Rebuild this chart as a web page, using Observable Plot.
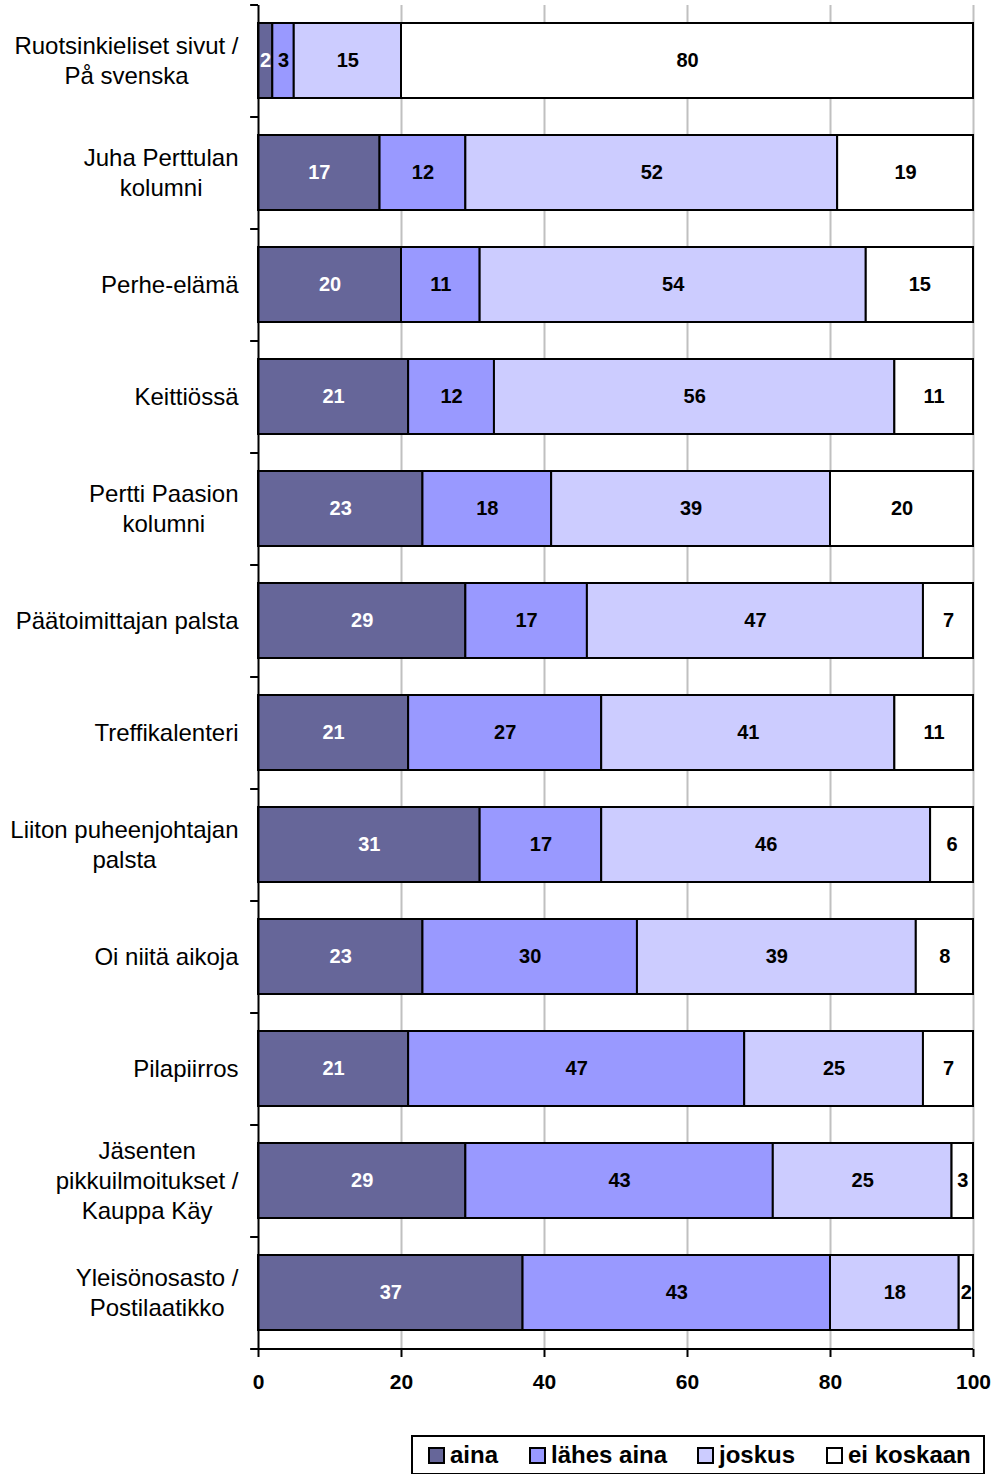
<!DOCTYPE html>
<html>
<head>
<meta charset="utf-8">
<script src="https://cdn.jsdelivr.net/npm/d3@7"></script>
<script src="https://cdn.jsdelivr.net/npm/@observablehq/plot@0.6"></script>
<style>
  html, body { margin: 0; padding: 0; background: #fff; }
  #wrap { position: relative; width: 995px; height: 1474px; font-family: "Liberation Sans", Arial, sans-serif; }
  #legend { position: absolute; left: 411px; top: 1435px; width: 574px; height: 40px; border: 2px solid #000; box-sizing: border-box;
            font-weight: bold; font-size: 24px; background:#fff; }
  .item { display: flex; align-items: center; position: absolute; top: 4px; }
  .sw { width: 13px; height: 13px; border: 2px solid #000; margin-right: 5px; box-sizing: content-box; }
</style>
</head>
<body>
<div id="wrap"></div>
<script>
const categories = [
  "Ruotsinkieliset sivut /\nPå svenska",
  "Juha Perttulan\nkolumni",
  "Perhe-elämä",
  "Keittiössä",
  "Pertti Paasion\nkolumni",
  "Päätoimittajan palsta",
  "Treffikalenteri",
  "Liiton puheenjohtajan\npalsta",
  "Oi niitä aikoja",
  "Pilapiirros",
  "Jäsenten\npikkuilmoitukset /\nKauppa Käy",
  "Yleisönosasto /\nPostilaatikko"
];
const series = ["aina", "lähes aina", "joskus", "ei koskaan"];
const aina      = [2, 17, 20, 21, 23, 29, 21, 31, 23, 21, 29, 37];
const lahesAina = [3, 12, 11, 12, 18, 17, 27, 17, 30, 47, 43, 43];
const joskus    = [15, 52, 54, 56, 39, 47, 41, 46, 39, 25, 25, 18];
const eiKoskaan = [80, 19, 15, 11, 20, 7, 11, 6, 8, 7, 3, 2];
const xTicks = [0, 20, 40, 60, 80, 100];
const colors = ["#666699", "#9999FF", "#CCCCFF", "#FFFFFF"];

const seriesValues = [aina, lahesAina, joskus, eiKoskaan];
const rows = [];
categories.forEach((c, i) => {
  let acc = 0;
  seriesValues.forEach((vals, s) => {
    const v = vals[i];
    rows.push({category: c, series: series[s], value: v, x1: acc, x2: acc + v, mid: acc + v / 2});
    acc += v;
  });
});

const W = 995, H = 1420, mT = 5, mB = 71;
const step = (H - mT - mB) / categories.length;

const chart = Plot.plot({
  width: W, height: H,
  marginLeft: 258, marginRight: 22, marginTop: mT, marginBottom: mB,
  x: {domain: [0, 100], axis: null},
  y: {domain: categories, paddingInner: 0.33, paddingOuter: 0.165, axis: null},
  color: {domain: series, range: colors},
  style: {fontFamily: "'Liberation Sans', Arial, sans-serif", background: "white"},
  marks: [
    Plot.ruleX(xTicks.filter(d => d > 0), {x: d => d, stroke: "#c0c0c0", strokeWidth: 2}),
    Plot.barX(rows, {x1: "x1", x2: "x2", y: "category", fill: "series", stroke: "black", strokeWidth: 2}),
    Plot.text(rows.filter(d => d.series === "aina"), {x: "mid", y: "category", text: d => String(d.value), fill: "white", fontSize: 20, fontWeight: "bold"}),
    Plot.text(rows.filter(d => d.series !== "aina"), {x: "mid", y: "category", text: d => String(d.value), fill: "black", fontSize: 20, fontWeight: "bold"}),
    Plot.ruleX([0], {stroke: "black", strokeWidth: 2}),
    Plot.ruleY(categories, {y: d => d, x1: -1.1, x2: 0, dy: -step / 2, stroke: "black", strokeWidth: 2}),
    Plot.ruleY([categories[categories.length - 1]], {y: d => d, x1: -1.1, x2: 100, dy: step / 2, stroke: "black", strokeWidth: 2}),
    Plot.text(categories, {x: 0, y: d => d, text: d => d, textAnchor: "end", dx: -20, dy: -2, fontSize: 24, lineHeight: 1.25, fill: "black", className: "catlabels"}),
    Plot.axisX(xTicks, {tickSize: 8, tickPadding: 17, fontSize: 21, fontWeight: "bold", strokeWidth: 2, anchor: "bottom", ticks: xTicks, tickFormat: d => String(d)})
  ]
});
const wrap = document.getElementById("wrap");
wrap.appendChild(chart);

// centre multi-line category labels within their right-aligned block
chart.querySelectorAll("g.catlabels text").forEach(t => {
  const spans = t.querySelectorAll("tspan");
  if (spans.length < 2) return;
  let maxW = 0;
  spans.forEach(s => { maxW = Math.max(maxW, s.getComputedTextLength()); });
  t.setAttribute("text-anchor", "middle");
  const tr = t.getAttribute("transform") || "";
  t.setAttribute("transform", tr + ` translate(${-maxW / 2},0)`);
});

const legend = document.createElement("div");
legend.id = "legend";
const lefts = [15, 116, 284, 413];
series.forEach((s, i) => {
  const it = document.createElement("div");
  it.className = "item";
  it.style.left = lefts[i] + "px";
  const sw = document.createElement("span");
  sw.className = "sw";
  sw.style.background = colors[i];
  const t = document.createElement("span");
  t.textContent = s;
  it.appendChild(sw); it.appendChild(t);
  legend.appendChild(it);
});
wrap.appendChild(legend);
</script>
</body>
</html>
